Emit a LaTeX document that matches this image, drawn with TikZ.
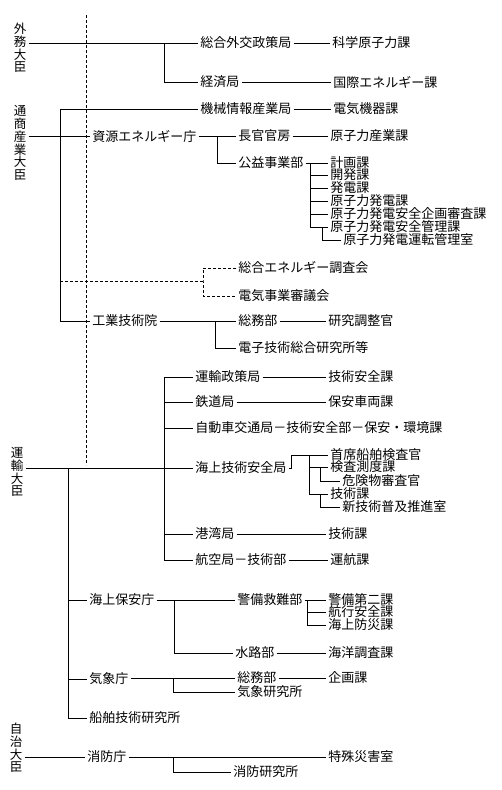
\documentclass[tikz,border=0pt]{standalone}
\usepackage{fontspec}
\setmainfont{Noto Sans CJK JP}
\usepackage{tikz}

\begin{document}
\begin{tikzpicture}[
            x=1pt, y=-1pt,
            line width=0.6pt,
            unit/.style={anchor=west, inner xsep=2pt, inner ysep=1pt, font=\fontsize{13pt}{13pt}\selectfont},
            minister/.style={align=center, inner sep=2pt, font=\fontsize{12.5pt}{12.8pt}\selectfont},
            dashline/.style={dash pattern=on 3pt off 2pt}
        ]
        \useasboundingbox (0,0) rectangle (501,790);

        % --- MINISTERS (vertical labels) ---
        \node[minister] (gaimu) at (20,48) {外\\務\\大\\臣};
        \node[minister] (tsusan) at (20,143) {通\\商\\産\\業\\大\\臣};
        \node[minister] (unyu) at (17,472) {運\\輸\\大\\臣};
        \node[minister] (jichi) at (16,748) {自\\治\\大\\臣};

        % --- 外務大臣 ---
        \node[unit] (sogo) at (198,43) {総合外交政策局};
        \node[unit] (kagaku) at (330,43) {科学原子力課};
        \node[unit] (keizai) at (198,82) {経済局};
        \node[unit] (kokusai) at (331,82) {国際エネルギー課};
        \coordinate (gbr) at (164,43);
        \draw (gaimu.east |- sogo.west) -- (sogo.west);
        \draw (sogo.east) -- (kagaku.west);
        \draw (gbr) |- (keizai.west);
        \draw (keizai.east) -- (kokusai.west);

        % --- 通商産業大臣 ---
        \node[unit] (kikai) at (198,109) {機械情報産業局};
        \node[unit] (denki) at (331,109) {電気機器課};
        \node[unit] (shigen) at (90,136) {資源エネルギー庁};
        \node[unit] (chokan) at (236,136) {長官官房};
        \node[unit] (genshi) at (328,136) {原子力産業課};
        \node[unit] (koeki) at (236,163) {公益事業部};
        \node[unit] (kogyo) at (90,321) {工業技術院};
        \coordinate (tbus) at (60,109);
        \coordinate (sbr) at (217,136);
        \draw (tsusan.east |- shigen.west) -- (shigen.west);
        \draw (kikai.west) -- (tbus) -- (tbus |- kogyo.west) -- (kogyo.west);
        \draw (kikai.east) -- (denki.west);
        \draw (shigen.east) -- (chokan.west);
        \draw (chokan.east) -- (genshi.west);
        \draw (sbr) |- (koeki.west);

        % 公益事業部の課
        \node[unit] (kei1) at (328,163) {計画課};
        \node[unit] (kei2) at (328,175) {開発課};
        \node[unit] (kei3) at (328,188) {発電課};
        \node[unit] (kei4) at (328,201) {原子力発電課};
        \node[unit] (kei5) at (328,214) {原子力発電安全企画審査課};
        \node[unit] (kei6) at (328,227) {原子力発電安全管理課};
        \node[unit] (kei7) at (341,240) {原子力発電運転管理室};
        \coordinate (kbr) at (310,163);
        \coordinate (kbr2) at (322,227);
        \draw (koeki.east) -- (kei1.west);
        \draw (kbr) |- (kei6.west);
        \draw (kbr |- kei2.west) -- (kei2.west);
        \draw (kbr |- kei3.west) -- (kei3.west);
        \draw (kbr |- kei4.west) -- (kei4.west);
        \draw (kbr |- kei5.west) -- (kei5.west);
        \draw (kbr2) |- (kei7.west);

        % 審議会 (dashed)
        \node[unit] (chosa) at (236,268) {総合エネルギー調査会};
        \node[unit] (shingi) at (236,296) {電気事業審議会};
        \coordinate (dbr) at (203,281);
        \draw[dashline] (tbus |- dbr) -- (dbr);
        \draw[dashline] (chosa.west) -| (dbr) |- (shingi.west);

        % 工業技術院
        \node[unit] (somu) at (236,321) {総務部};
        \node[unit] (kenkyu) at (326,321) {研究調整官};
        \node[unit] (denshi) at (236,348) {電子技術総合研究所等};
        \coordinate (kbr3) at (215,321);
        \draw (kogyo.east) -- (somu.west);
        \draw (somu.east) -- (kenkyu.west);
        \draw (kbr3) |- (denshi.west);

        % --- 運輸大臣 ---
        \node[unit] (seisaku) at (193,377) {運輸政策局};
        \node[unit] (gian) at (326,377) {技術安全課};
        \node[unit] (tetsudo) at (193,402) {鉄道局};
        \node[unit] (sharyo) at (326,402) {保安車両課};
        \node[unit] (jidosha) at (193,428) {自動車交通局－技術安全部－保安・環境課};
        \node[unit] (kaijo) at (193,468) {海上技術安全局};
        \node[unit] (kowan) at (193,534) {港湾局};
        \node[unit] (gika) at (326,534) {技術課};
        \node[unit] (koku) at (193,560) {航空局－技術部};
        \node[unit] (unko) at (328,560) {運航課};
        \coordinate (ubus) at (164,377);
        \draw (unyu.east |- kaijo.west) -- (kaijo.west);
        \draw (seisaku.west) -- (ubus) -- (ubus |- koku.west) -- (koku.west);
        \draw (ubus |- tetsudo.west) -- (tetsudo.west);
        \draw (ubus |- jidosha.west) -- (jidosha.west);
        \draw (ubus |- kowan.west) -- (kowan.west);
        \draw (seisaku.east) -- (gian.west);
        \draw (tetsudo.east) -- (sharyo.west);
        \draw (kowan.east) -- (gika.west);
        \draw (koku.east) -- (unko.west);

        % 海上技術安全局の課
        \node[unit] (shuseki) at (328,455) {首席船舶検査官};
        \node[unit] (sokudo) at (328,467) {検査測度課};
        \node[unit] (kiken) at (340,481) {危険物審査官};
        \node[unit] (gika2) at (328,494) {技術課};
        \node[unit] (shinki) at (340,507) {新技術普及推進室};
        \coordinate (mbr) at (309,455);
        \coordinate (mbr2) at (320,467);
        \coordinate (mbr3) at (320,494);
        \draw (kaijo.east) -- ++(3,0) |- (shuseki.west);
        \draw (mbr) |- (gika2.west);
        \draw (mbr |- sokudo.west) -- (sokudo.west);
        \draw (mbr2) |- (kiken.west);
        \draw (mbr3) |- (shinki.west);

        % 外局
        \node[unit] (hoancho) at (87,600) {海上保安庁};
        \node[unit] (kishocho) at (87,679) {気象庁};
        \node[unit] (senpaku) at (87,718) {船舶技術研究所};
        \coordinate (lbus) at (68,468);
        \draw (lbus) |- (senpaku.west);
        \draw (lbus |- hoancho.west) -- (hoancho.west);
        \draw (lbus |- kishocho.west) -- (kishocho.west);

        % 海上保安庁
        \node[unit] (keibi) at (235,600) {警備救難部};
        \node[unit] (kb1) at (326,600) {警備第二課};
        \node[unit] (kb2) at (326,612) {航行安全課};
        \node[unit] (kb3) at (326,625) {海上防災課};
        \node[unit] (suiro) at (233,653) {水路部};
        \node[unit] (kaiyo) at (326,653) {海洋調査課};
        \coordinate (hbr) at (174,600);
        \coordinate (kbbr) at (307,600);
        \draw (hoancho.east) -- (keibi.west);
        \draw (hbr) |- (suiro.west);
        \draw (suiro.east) -- (kaiyo.west);
        \draw (keibi.east) -- (kb1.west);
        \draw (kbbr) |- (kb3.west);
        \draw (kbbr |- kb2.west) -- (kb2.west);

        % 気象庁
        \node[unit] (ksomu) at (235,678) {総務部};
        \node[unit] (kikaku) at (326,678) {企画課};
        \node[unit] (kenkyujo) at (235,692) {気象研究所};
        \coordinate (wbr) at (173,678);
        \draw (kishocho.east |- ksomu.west) -- (ksomu.west);
        \draw (wbr) |- (kenkyujo.west);
        \draw (ksomu.east) -- (kikaku.west);

        % --- 自治大臣 ---
        \node[unit] (shobo) at (85,757) {消防庁};
        \node[unit] (tokushu) at (326,757) {特殊災害室};
        \node[unit] (shoken) at (231,772) {消防研究所};
        \coordinate (fbr) at (173,757);
        \draw (jichi.east |- shobo.west) -- (shobo.west);
        \draw (shobo.east) -- (tokushu.west);
        \draw (fbr) |- (shoken.west);

        % 区分線
        \coordinate (dtop) at (86,15);
        \coordinate (dbot) at (86,465);
        \draw[dashline] (dtop) -- (dbot);

        \end{tikzpicture}
\end{document}
